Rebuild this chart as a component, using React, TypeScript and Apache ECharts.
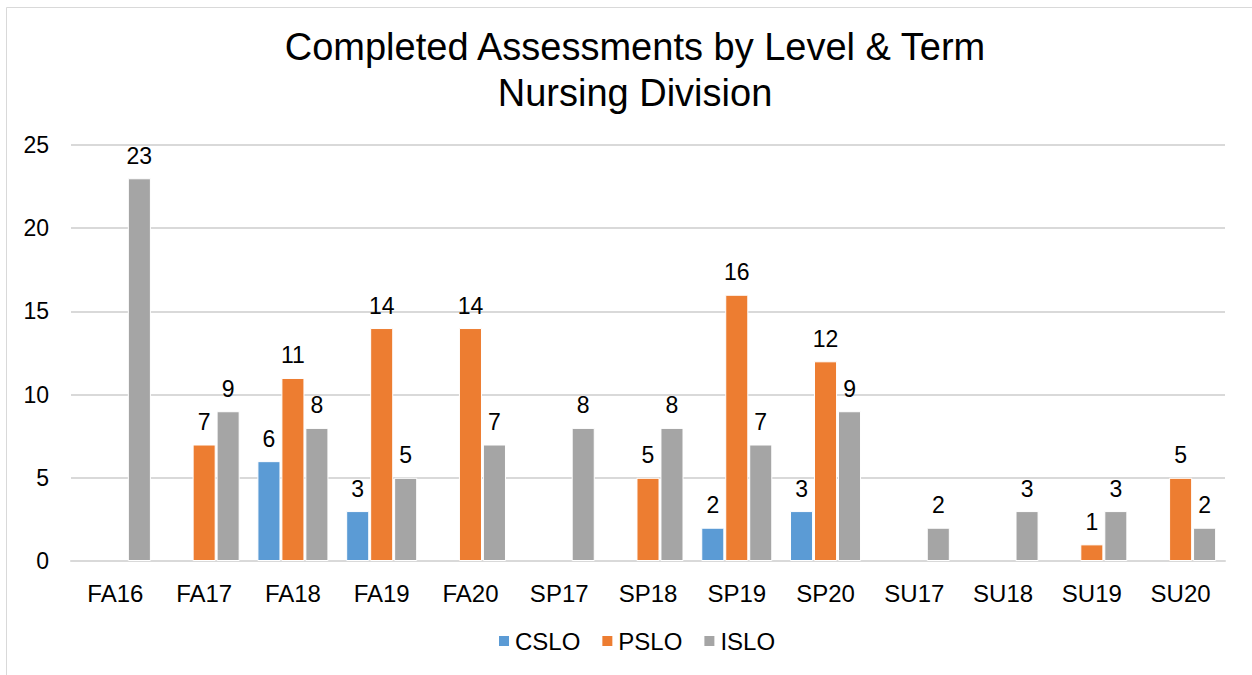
import React, { useEffect, useRef } from "react";
import * as echarts from "echarts";

const categories = ["FA16", "FA17", "FA18", "FA19", "FA20", "SP17", "SP18", "SP19", "SP20", "SU17", "SU18", "SU19", "SU20"];
const cslo = [null, null, 6, 3, null, null, null, 2, 3, null, null, null, null];
const pslo = [null, 7, 11, 14, 14, null, 5, 16, 12, null, null, 1, 5];
const islo = [23, 9, 8, 5, 7, 8, 8, 7, 9, 2, 3, 3, 2];
const seriesNames = ["CSLO", "PSLO", "ISLO"];
const colors = ["#5B9BD5", "#ED7D31", "#A5A5A5"];
const titleLines = ["Completed Assessments by Level & Term", "Nursing Division"];

const FONT = '"Liberation Sans", Arial, sans-serif';

export default function App() {
  const ref = useRef<HTMLDivElement>(null);
  useEffect(() => {
    if (!ref.current) return;
    const chart = echarts.init(ref.current, null, { renderer: "svg" });
    const data = [cslo, pslo, islo];
    chart.setOption({
      animation: false,
      backgroundColor: "#fff",
      textStyle: { fontFamily: FONT },
      title: {
        text: titleLines.join("\n"),
        left: 630,
        top: 19,
        textAlign: "center",
        textStyle: { fontSize: 38, fontWeight: "normal", color: "#000", lineHeight: 46, fontFamily: FONT },
      },
      graphic: [
        {
          type: "rect",
          shape: { x: 6.5, y: 7.5, width: 1400, height: 800 },
          style: { fill: "none", stroke: "#D9D9D9", lineWidth: 1 },
          silent: true,
        },
      ],
      legend: {
        data: seriesNames,
        left: 492,
        top: 624,
        itemWidth: 12,
        itemHeight: 12,
        itemGap: 20,
        icon: "rect",
        textStyle: { fontSize: 24, color: "#000", fontFamily: FONT },
      },
      grid: { left: 71, right: 27, top: 145, bottom: 114, containLabel: false },
      xAxis: {
        type: "category",
        data: categories,
        axisLine: { lineStyle: { color: "#D9D9D9", width: 2 } },
        axisTick: { show: false },
        axisLabel: { fontSize: 24, color: "#000", margin: 20, fontFamily: FONT },
      },
      yAxis: {
        type: "value",
        min: 0,
        max: 25,
        interval: 5,
        axisLine: { show: false },
        axisTick: { show: false },
        splitLine: { lineStyle: { color: "#D9D9D9", width: 2 } },
        axisLabel: { fontSize: 23, color: "#000", margin: 22, fontFamily: FONT },
      },
      series: seriesNames.map((name, i) => ({
        name,
        type: "bar",
        data: data[i],
        barGap: "4%",
        barCategoryGap: "20%",
        itemStyle: { color: colors[i], borderColor: "#fff", borderWidth: 1 },
        label: {
          show: true,
          position: "top",
          distance: 11,
          fontSize: 23,
          color: "#000",
          fontFamily: FONT,
        },
      })),
    });
    return () => chart.dispose();
  }, []);
  return <div ref={ref} style={{ position: "fixed", left: 0, top: 0, width: 1252, height: 675 }} />;
}
